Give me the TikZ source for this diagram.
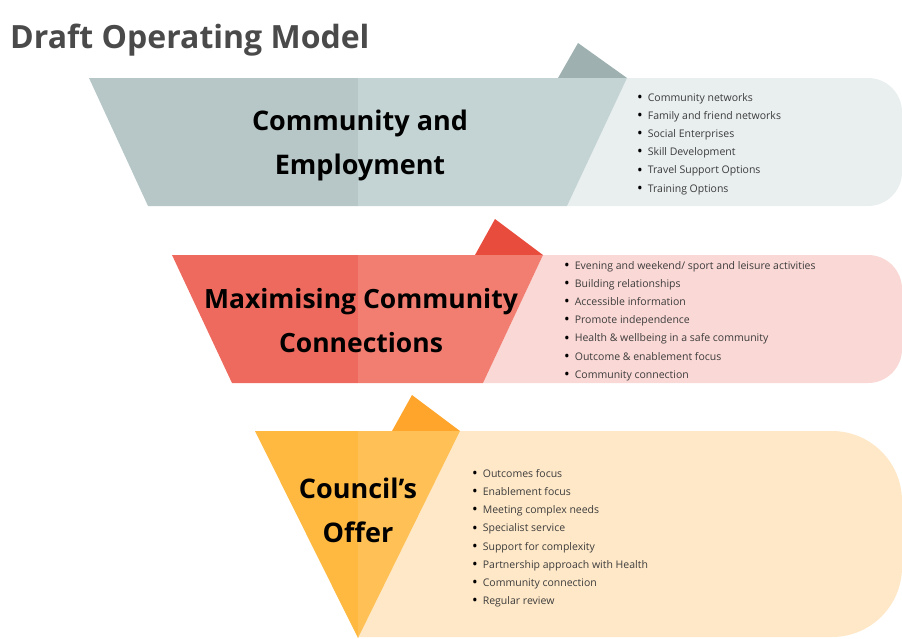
\documentclass[tikz,border=0pt]{standalone}
\usepackage{fontspec}
\setmainfont{Open Sans}
\usepackage{tikz}
\definecolor{greyDk}{HTML}{B7C7C7}
\definecolor{greyMd}{HTML}{C4D3D3}
\definecolor{greyTab}{HTML}{9FB0B0}
\definecolor{greyLt}{HTML}{E9EEEE}
\definecolor{redDk}{HTML}{EE6A5E}
\definecolor{redMd}{HTML}{F27E72}
\definecolor{redTab}{HTML}{E84C3D}
\definecolor{redLt}{HTML}{FAD8D5}
\definecolor{orDk}{HTML}{FFB840}
\definecolor{orMd}{HTML}{FFC155}
\definecolor{orTab}{HTML}{FFA52B}
\definecolor{orLt}{HTML}{FFE8C8}
\definecolor{titlegrey}{HTML}{4A4A4A}
\definecolor{listgrey}{HTML}{3C3C3C}
\tikzset{
  titletext/.style={font=\bfseries\fontsize{32}{38}\selectfont, text=titlegrey, anchor=base west, inner sep=0pt},
  heading/.style={font=\bfseries\fontsize{27}{44}\selectfont, align=center, inner sep=0pt},
  itemlist/.style={font=\fontsize{10.5}{18.2}\selectfont, text=listgrey, align=left, anchor=north west, inner sep=0pt}
}
\newcommand{\bitem}[1]{\raisebox{-1.2pt}{\fontsize{15}{15}\selectfont\textcolor{black}{\textbullet}}\hspace{5pt}#1}

\begin{document}
\begin{tikzpicture}[x=1pt,y=-1pt]
  \useasboundingbox (0,0) rectangle (902,638);
  \node[titletext] (title) at (10,48) {Draft Operating Model};

  \begin{scope}
    \clip[rounded corners=34] (300,78) rectangle (902,206);
    \fill[greyLt] (567,206) -- (627,78) -- (902,78) -- (902,206) -- cycle;
  \end{scope}
  \fill[greyTab] (558,78) -- (578,43) -- (627,78) -- cycle;
  \fill[greyDk] (89,78) -- (358,78) -- (358,206) -- (148,206) -- cycle;
  \fill[greyMd] (358,78) -- (627,78) -- (567,206) -- (358,206) -- cycle;
  \node[heading] (community) at (360,145) {Community and\\Employment};
  \node[itemlist] (communitylist) at (637,93) {\bitem{Community networks}\\\bitem{Family and friend networks}\\\bitem{Social Enterprises}\\\bitem{Skill Development}\\\bitem{Travel Support Options}\\\bitem{Training Options}};

  \begin{scope}
    \clip[rounded corners=34] (300,255) rectangle (902,383);
    \fill[redLt] (483,383) -- (543,255) -- (902,255) -- (902,383) -- cycle;
  \end{scope}
  \fill[redTab] (475,255) -- (495,219) -- (543,255) -- cycle;
  \fill[redDk] (172,255) -- (358,255) -- (358,383) -- (232,383) -- cycle;
  \fill[redMd] (358,255) -- (543,255) -- (483,383) -- (358,383) -- cycle;
  \node[heading, font=\bfseries\fontsize{26.5}{44}\selectfont] (connections) at (361,321) {Maximising Community\\Connections};
  \node[itemlist] (connectionslist) at (564,261) {\bitem{Evening and weekend/ sport and leisure activities}\\\bitem{Building relationships}\\\bitem{Accessible information}\\\bitem{Promote independence}\\\bitem{Health \& wellbeing in a safe community}\\\bitem{Outcome \& enablement focus}\\\bitem{Community connection}};

  \begin{scope}
    \clip[rounded corners=70] (200,431) rectangle (902,637);
    \fill[orLt] (358,638) -- (460,431) -- (902,431) -- (902,638) -- cycle;
  \end{scope}
  \fill[orTab] (392,431) -- (412,395) -- (460,431) -- cycle;
  \fill[orDk] (255,431) -- (358,431) -- (358,638) -- cycle;
  \fill[orMd] (358,431) -- (460,431) -- (358,638) -- cycle;
  \node[heading] (offer) at (358,510) {Council’s\\Offer};
  \node[itemlist] (offerlist) at (472,469) {\bitem{Outcomes focus}\\\bitem{Enablement focus}\\\bitem{Meeting complex needs}\\\bitem{Specialist service}\\\bitem{Support for complexity}\\\bitem{Partnership approach with Health}\\\bitem{Community connection}\\\bitem{Regular review}};
\end{tikzpicture}
\end{document}
